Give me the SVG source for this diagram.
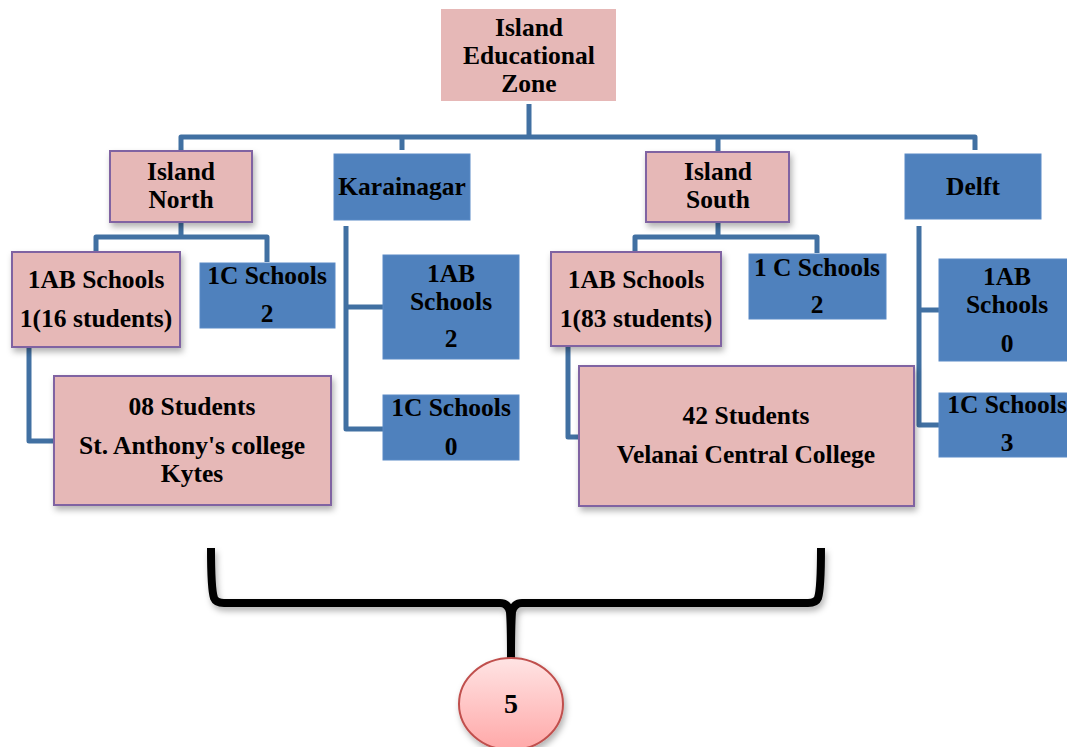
<svg xmlns="http://www.w3.org/2000/svg" width="1067" height="747" viewBox="0 0 1067 747">
<defs>
<filter id="sh" x="-10%" y="-10%" width="125%" height="130%">
<feDropShadow dx="2" dy="4" stdDeviation="3" flood-color="#000" flood-opacity="0.3"/>
</filter>
<linearGradient id="cg" x1="0" y1="0" x2="0" y2="1">
<stop offset="0" stop-color="#FFE4E4"/>
<stop offset="1" stop-color="#FFA8A8"/>
</linearGradient>
<style>
.pk{fill:#E6B8B7;stroke:#8064A2;stroke-width:2;filter:url(#sh)}
.pk0{fill:#E6B8B7}
.bl{fill:#4F81BD;stroke:#5A8AC6;stroke-width:1}
.c{fill:none;stroke:#4170A2;stroke-width:5;stroke-linejoin:round}
text{font-family:"Liberation Serif","Times New Roman",serif;font-weight:bold;font-size:25.5px;fill:#000;text-anchor:middle}
</style>
</defs>
<g id="connectors">
<path class="c" d="M529,104 V137 M181,152 V137 H975 V150 M402,137 V150 M718,137 V152"/>
<path class="c" d="M181,222 V237 H96 V252 M181,237 H267 V262"/>
<path class="c" d="M29,347 V441 H55"/>
<path class="c" d="M346,226 V429 H383 M346,307 H383"/>
<path class="c" d="M718,222 V237 H635 V252 M718,237 H817 V253"/>
<path class="c" d="M568,346 V437 H580"/>
<path class="c" d="M919,226 V425 H939 M919,310 H939"/>
<path d="M211,548 C211,575 212,592 214,598 Q216,603 224,603 H500 Q508,603 510,612 C511,625 511,640 511,658 C511,640 511,625 512,612 Q514,603 522,603 H808 Q816,603 818,598 C820,592 821,575 821,548" fill="none" stroke="#000" stroke-width="8" stroke-linejoin="round" filter="url(#sh)"/>
</g>
<g id="zone">
<rect class="pk0" x="441" y="9" width="175" height="92"/>
<text x="529" y="36">Island</text>
<text x="529" y="64">Educational</text>
<text x="529" y="92">Zone</text>
</g>
<g id="island-north">
<rect class="pk" x="110" y="151" width="142" height="71"/>
<text x="181" y="180">Island</text>
<text x="181" y="208">North</text>
</g>
<g id="karainagar">
<rect class="bl" x="334" y="154" width="136" height="66"/>
<text x="402" y="195">Karainagar</text>
</g>
<g id="island-south">
<rect class="pk" x="646" y="152" width="143" height="70"/>
<text x="718" y="180">Island</text>
<text x="718" y="208">South</text>
</g>
<g id="delft">
<rect class="bl" x="905" y="154" width="136" height="65"/>
<text x="973" y="195">Delft</text>
</g>
<g id="north-1ab">
<rect class="pk" x="12" y="252" width="168" height="95"/>
<text x="96" y="288">1AB Schools</text>
<text x="96" y="327">1(16 students)</text>
</g>
<g id="north-1c">
<rect class="bl" x="200" y="263" width="135" height="65"/>
<text x="267" y="284">1C Schools</text>
<text x="267" y="322">2</text>
</g>
<g id="north-students">
<rect class="pk" x="54" y="376" width="277" height="129"/>
<text x="192" y="415">08 Students</text>
<text x="192" y="454">St. Anthony's college</text>
<text x="192" y="482">Kytes</text>
</g>
<g id="kar-1ab">
<rect class="bl" x="383" y="255" width="136" height="104"/>
<text x="451" y="282">1AB</text>
<text x="451" y="310">Schools</text>
<text x="451" y="347">2</text>
</g>
<g id="kar-1c">
<rect class="bl" x="383" y="395" width="136" height="65"/>
<text x="451" y="416">1C Schools</text>
<text x="451" y="455">0</text>
</g>
<g id="south-1ab">
<rect class="pk" x="551" y="252" width="170" height="94"/>
<text x="636" y="288">1AB Schools</text>
<text x="636" y="327">1(83 students)</text>
</g>
<g id="south-1c">
<rect class="bl" x="749" y="254" width="137" height="65"/>
<text x="817" y="276">1 C Schools</text>
<text x="817" y="313">2</text>
</g>
<g id="south-students">
<rect class="pk" x="579" y="366" width="335" height="140"/>
<text x="746" y="424">42 Students</text>
<text x="746" y="463">Velanai Central College</text>
</g>
<g id="delft-1ab">
<rect class="bl" x="939" y="259" width="136" height="102"/>
<text x="1007" y="285">1AB</text>
<text x="1007" y="313">Schools</text>
<text x="1007" y="352">0</text>
</g>
<g id="delft-1c">
<rect class="bl" x="939" y="393" width="136" height="64"/>
<text x="1007" y="413">1C Schools</text>
<text x="1007" y="451">3</text>
</g>
<g id="total">
<ellipse cx="511" cy="704" rx="52" ry="46" fill="url(#cg)" stroke="#C0504D" stroke-width="2" filter="url(#sh)"/>
<text x="511" y="713" style="font-size:28px">5</text>
</g>
</svg>
